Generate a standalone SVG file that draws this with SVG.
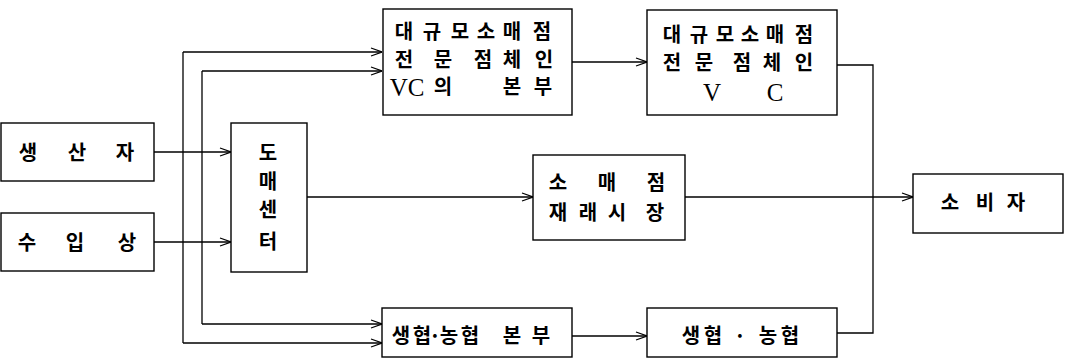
<svg xmlns="http://www.w3.org/2000/svg" width="1067" height="362" viewBox="0 0 1067 362">
<style>
.box{fill:#fff;stroke:#000;stroke-width:1.4}
.ln{fill:none;stroke:#000;stroke-width:1.3}
.t{font-family:"Noto Sans CJK KR","Noto Sans",sans-serif;font-size:20px;font-weight:bold;fill:#000;text-anchor:middle}
.l{font-family:"Liberation Serif",serif;font-size:25px;font-weight:normal}
</style>
<defs>
<marker id="arr" viewBox="0 0 12 10" refX="12" refY="5" markerWidth="12" markerHeight="10" markerUnits="userSpaceOnUse" orient="auto">
<polyline points="1,1 12,5 1,9" fill="none" stroke="#000" stroke-width="1.2"/>
</marker>
</defs>
<rect width="1067" height="362" fill="#fff"/>
<g id="connectors">
<line class="ln" x1="154" y1="152" x2="231" y2="152" marker-end="url(#arr)"/>
<line class="ln" x1="154" y1="242" x2="231" y2="242" marker-end="url(#arr)"/>
<line class="ln" x1="183" y1="52" x2="183" y2="343"/>
<line class="ln" x1="183" y1="52" x2="382" y2="52" marker-end="url(#arr)"/>
<line class="ln" x1="183" y1="343" x2="382" y2="343" marker-end="url(#arr)"/>
<line class="ln" x1="202" y1="71" x2="202" y2="324"/>
<line class="ln" x1="202" y1="71" x2="382" y2="71" marker-end="url(#arr)"/>
<line class="ln" x1="202" y1="324" x2="382" y2="324" marker-end="url(#arr)"/>
<line class="ln" x1="572" y1="62" x2="647" y2="62" marker-end="url(#arr)"/>
<line class="ln" x1="307" y1="197" x2="533" y2="197" marker-end="url(#arr)"/>
<line class="ln" x1="685" y1="197" x2="913" y2="197" marker-end="url(#arr)"/>
<polyline class="ln" points="837,65 873,65 873,333 837,333"/>
<line class="ln" x1="572" y1="336" x2="647" y2="336" marker-end="url(#arr)"/>
</g>
<g id="producer">
<rect class="box" x="1" y="123" width="153" height="58"/>
<text class="t" x="28 77 125" y="160">생산자</text>
</g>
<g id="importer">
<rect class="box" x="1" y="213" width="153" height="58"/>
<text class="t" x="27 75 127" y="250">수입상</text>
</g>
<g id="wholesale-center">
<rect class="box" x="231" y="123" width="76" height="149"/>
<text class="t"><tspan x="268" y="160">도</tspan><tspan x="268" y="189">매</tspan><tspan x="268" y="217">센</tspan><tspan x="268" y="249">터</tspan></text>
</g>
<g id="large-retail-hq">
<rect class="box" x="383" y="9" width="189" height="106"/>
<text class="t"><tspan x="404 432 460 486 512 542" y="39">대규모소매점</tspan><tspan x="404 443 483 512 544" y="67">전문점체인</tspan><tspan class="l" x="407" y="96">VC</tspan><tspan x="443 512 543" y="94">의본부</tspan></text>
</g>
<g id="large-retail-vc">
<rect class="box" x="647" y="10" width="190" height="105"/>
<text class="t"><tspan x="672 699 725 750 775 804" y="42">대규모소매점</tspan><tspan x="672 704 742 772 804" y="70">전문점체인</tspan><tspan class="l" x="712 775" y="101">VC</tspan></text>
</g>
<g id="retail-market">
<rect class="box" x="533" y="155" width="152" height="85"/>
<text class="t"><tspan x="558 607 656" y="190">소매점</tspan><tspan x="558 588 617 655" y="220">재래시장</tspan></text>
</g>
<g id="coop-hq">
<rect class="box" x="382" y="308" width="190" height="49"/>
<text class="t" x="401 422 435 449 470 512 541" y="343">생협·농협본부</text>
</g>
<g id="coop">
<rect class="box" x="647" y="308" width="190" height="49"/>
<text class="t" x="691 713 740 768 790" y="343">생협·농협</text>
</g>
<g id="consumer">
<rect class="box" x="913" y="174" width="150" height="59"/>
<text class="t" x="950 985 1016" y="210">소비자</text>
</g>
</svg>
